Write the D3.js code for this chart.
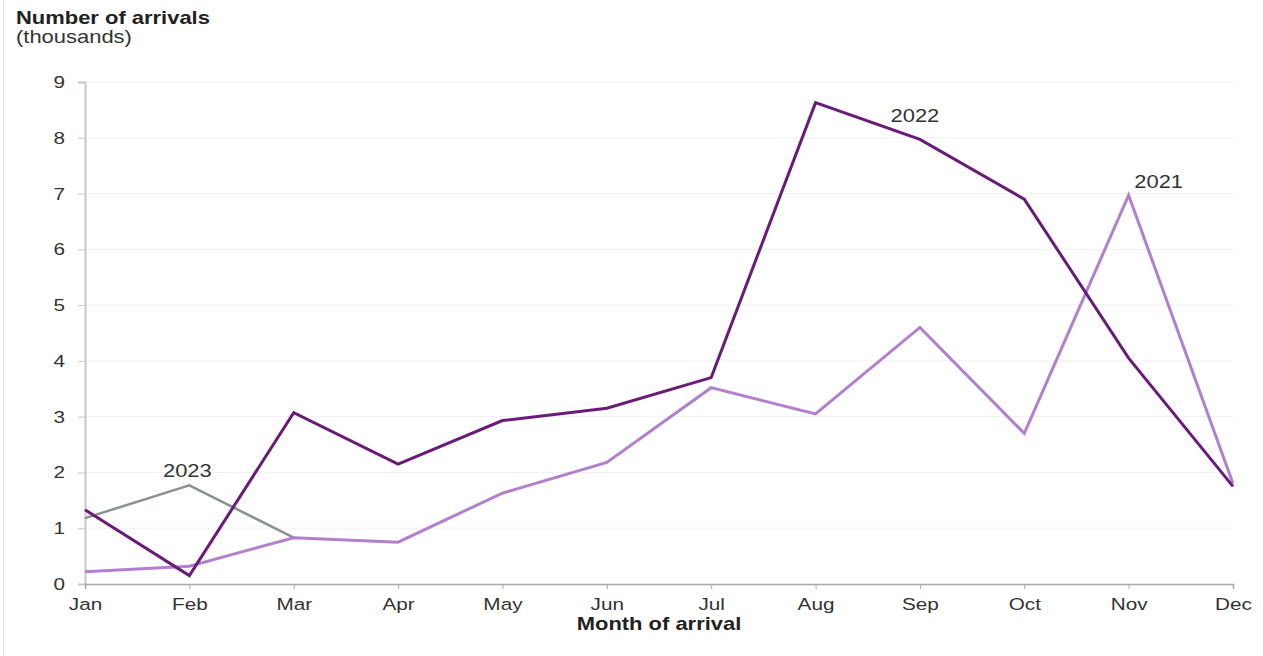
<!DOCTYPE html>
<html>
<head>
<meta charset="utf-8">
<script src="https://cdn.jsdelivr.net/npm/d3@7"></script>
<style>
  body { margin: 0; background: #fff; }
  svg { font-family: "Liberation Sans", Arial, sans-serif; }
</style>
</head>
<body>
<svg id="chart" width="1263" height="656"></svg>
<script>
const months = ['Jan', 'Feb', 'Mar', 'Apr', 'May', 'Jun', 'Jul', 'Aug', 'Sep', 'Oct', 'Nov', 'Dec']
const arrivals2021 = [0.22, 0.32, 0.83, 0.75, 1.63, 2.18, 3.52, 3.05, 4.6, 2.7, 6.97, 1.8]
const arrivals2022 = [1.33, 0.15, 3.07, 2.15, 2.93, 3.15, 3.7, 8.63, 7.97, 6.9, 4.05, 1.75]
const arrivals2023 = [1.18, 1.77, 0.83]
const yTicks = [0, 1, 2, 3, 4, 5, 6, 7, 8, 9]

// the source picture is a bit wider than tall, so text gets stretched sideways
const STRETCH = 1.22

/**
 * Stretches text horizontally while keeping its anchor point in place
 *
 * @param {*} sel selection of text elements
 */
function stretch (sel) {
  sel.each(function () {
    const t = d3.select(this)
    const x = +t.attr('x') || 0
    t.attr('x', x / STRETCH).attr('transform', `scale(${STRETCH},1)`)
  })
}

const svg = d3.select('#chart')
const margin = { top: 82, left: 85, right: 30, bottom: 72 }
const width = 1263 - margin.left - margin.right
const height = 656 - margin.top - margin.bottom

// faint frame edge on the left
svg.append('line')
  .attr('x1', 3.5).attr('x2', 3.5).attr('y1', 0).attr('y2', 656)
  .attr('stroke', '#e4e4e4')

const g = svg.append('g').attr('transform', `translate(${margin.left},${margin.top})`)

const x = d3.scalePoint().domain(months).range([0, width])
const y = d3.scaleLinear().domain([0, 9]).range([height, 0])

// gridlines
g.selectAll('line.grid')
  .data(yTicks.slice(1))
  .enter()
  .append('line')
  .attr('class', 'grid')
  .attr('x1', 0).attr('x2', width)
  .attr('y1', d => y(d)).attr('y2', d => y(d))
  .attr('stroke', '#f0f0f0')

// y axis
const yAxis = g.append('g')
  .call(d3.axisLeft(y).tickValues(yTicks).tickSize(7).tickPadding(13))
yAxis.select('.domain').attr('stroke', '#c8c8c8').attr('stroke-width', 2)
yAxis.selectAll('.tick line').attr('stroke', '#c8c8c8')
yAxis.selectAll('text').attr('font-size', 17).attr('fill', '#333').call(stretch)

// x axis
const xAxis = g.append('g')
  .attr('transform', `translate(0,${height})`)
  .call(d3.axisBottom(x).tickSize(5).tickPadding(9))
xAxis.select('.domain').attr('stroke', '#a8a8a8').attr('stroke-width', 1.5)
xAxis.selectAll('.tick line').attr('stroke', '#a8a8a8')
xAxis.selectAll('text').attr('font-size', 17).attr('fill', '#333').call(stretch)

const line = d3.line()
  .x((d, i) => x(months[i]))
  .y(d => y(d))

const series = [
  { name: '2023', values: arrivals2023, color: '#8b918c', width: 2.5 },
  { name: '2021', values: arrivals2021, color: '#b27fcf', width: 3 },
  { name: '2022', values: arrivals2022, color: '#6a1b78', width: 3 }
]

g.selectAll('path.series')
  .data(series)
  .enter()
  .append('path')
  .attr('class', 'series')
  .attr('fill', 'none')
  .attr('stroke', d => d.color)
  .attr('stroke-width', d => d.width)
  .attr('stroke-linejoin', 'miter')
  .attr('d', d => line(d.values))

// series labels
const labels = [
  { text: '2023', month: 'Feb', value: 1.77, dx: -2, dy: -8 },
  { text: '2022', month: 'Sep', value: 7.97, dx: -5, dy: -17 },
  { text: '2021', month: 'Nov', value: 6.97, dx: 30, dy: -7 }
]
g.selectAll('text.label')
  .data(labels)
  .enter()
  .append('text')
  .attr('class', 'label')
  .attr('x', d => x(d.month) + d.dx)
  .attr('y', d => y(d.value) + d.dy)
  .attr('text-anchor', 'middle')
  .attr('font-size', 18)
  .attr('fill', '#333')
  .text(d => d.text)
  .call(stretch)

// titles
svg.append('text')
  .attr('x', 16).attr('y', 24)
  .attr('font-size', 18).attr('font-weight', 'bold').attr('fill', '#222')
  .text('Number of arrivals')
  .call(stretch)
svg.append('text')
  .attr('x', 16).attr('y', 43)
  .attr('font-size', 18).attr('fill', '#333')
  .text('(thousands)')
  .call(stretch)
svg.append('text')
  .attr('x', 659).attr('y', 630)
  .attr('text-anchor', 'middle')
  .attr('font-size', 18).attr('font-weight', 'bold').attr('fill', '#222')
  .text('Month of arrival')
  .call(stretch)
</script>
</body>
</html>
